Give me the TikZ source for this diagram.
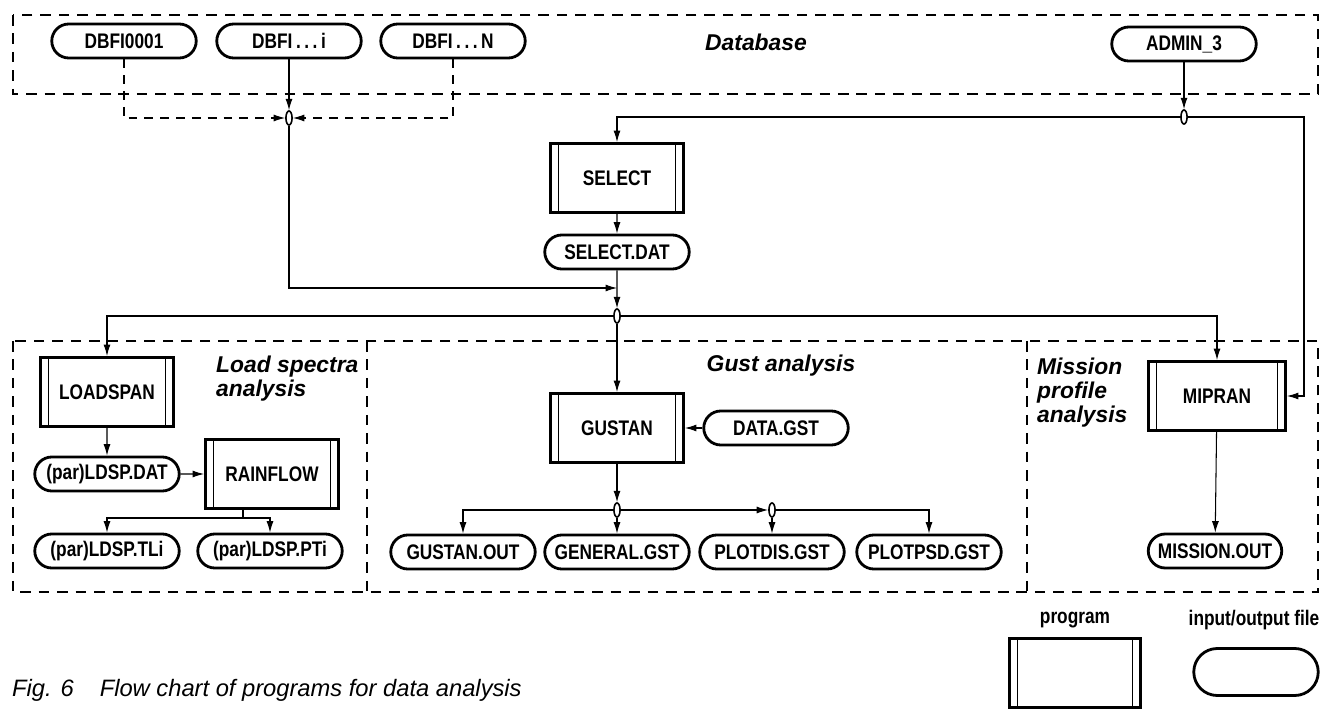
\documentclass[tikz,border=0pt]{standalone}
\usepackage{fontspec}
\setmainfont{Liberation Sans}
\newfontfamily\condfont[FakeStretch=0.82]{Liberation Sans}
\usetikzlibrary{arrows.meta,shapes.misc,shapes.geometric}
\newcommand{\lbl}{\condfont\bfseries\fontsize{12}{14}\selectfont}
\newcommand{\ttl}{\bfseries\itshape\fontsize{13}{13.5}\selectfont}
\tikzset{
  prog/.style={draw, line width=1.7pt, minimum width=2.66cm, minimum height=1.38cm, inner sep=0pt, fill=white, font=\lbl,
    path picture={
      \draw[line width=0.8pt] ([xshift=4.5pt]path picture bounding box.north west) -- ([xshift=4.5pt]path picture bounding box.south west);
      \draw[line width=0.8pt] ([xshift=-4.5pt]path picture bounding box.north east) -- ([xshift=-4.5pt]path picture bounding box.south east);}},
  file/.style={draw, rounded rectangle, line width=1.6pt, minimum width=2.96cm, minimum height=0.68cm, inner sep=1pt, fill=white, font=\lbl},
  junc/.style={draw, ellipse, line width=0.9pt, minimum width=3.5pt, minimum height=8pt, inner sep=0pt, fill=white},
  flow/.style={line width=0.6pt, -{Latex[length=6.5pt,width=4pt]}},
  dline/.style={dash pattern=on 5pt off 4pt},
  region/.style={line width=1.1pt, dash pattern=on 6pt off 4.5pt},
}
\begin{document}
\begin{tikzpicture}[x=0.02cm, y=-0.02cm]
      \useasboundingbox (0,0) rectangle (1325,709);
      % dashed regions
      \draw[region] (13,15) rectangle (1318,94);
      \draw[region] (13,341) rectangle (1318,592);
      \draw[region] (367,341) -- (367,592);
      \draw[region] (1027,341) -- (1027,592);
      \node[font=\ttl] (tdb) at (756,42) {Database};
      \node[font=\ttl, align=left, anchor=north west] (tload) at (210,350) {Load spectra\\analysis};
      \node[font=\ttl] (tgust) at (781,366) {Gust analysis};
      \node[font=\ttl, align=left, anchor=north west] (tmis) at (1031,352) {Mission\\profile\\analysis};
      % database files
      \node[file] (dbfa) at (124,41) {DBFI0001};
      \node[file] (dbfi) at (289,41) {DBFI\,.\,.\,.\,i};
      \node[file] (dbfn) at (453,41) {DBFI\,.\,.\,.\,N};
      \node[file] (admin) at (1184,44) {ADMIN\_3};
      \node[junc] (jdb) at (289,118) {};
      \node[junc] (jad) at (1184,117) {};
      \coordinate (rt) at (1304,117);
      \coordinate (m1) at (617,288);
      \draw[flow,dline] (dbfa.south) |- (jdb.west);
      \draw[flow,dline] (dbfn.south) |- (jdb.east);
      \draw[flow] (dbfi.south) -- (jdb.north);
      \draw[flow] (admin.south) -- (jad.north);
      % select
      \node[prog] (select) at (617,178) {SELECT};
      \node[file] (seldat) at (617,252) {SELECT.DAT};
      \node[junc] (jmain) at (617,316) {};
      \draw[flow] (jad.west) -| (select.north);
      \draw[flow] (select) -- (seldat);
      \draw[flow] (seldat) -- (jmain);
      \draw[flow] (jdb.south) |- (m1);
      % load spectra
      \node[prog] (loadspan) at (107,392) {LOADSPAN};
      \node[file] (ldspdat) at (107,474) {(par)LDSP.DAT};
      \node[prog] (rainflow) at (272,474) {RAINFLOW};
      \node[file] (tli) at (107,551) {(par)LDSP.TLi};
      \node[file] (pti) at (270,551) {(par)LDSP.PTi};
      \coordinate (rb) at (243,518);
      \draw[flow] (jmain.west) -| (loadspan.north);
      \draw[flow] (loadspan) -- (ldspdat);
      \draw[flow] (ldspdat) -- (rainflow);
      \draw[line width=0.6pt] (rainflow.south -| rb) -- (rb);
      \draw[flow] (rb) -| (tli.north);
      \draw[flow] (rb) -| (pti.north);
      % gust
      \node[prog] (gustan) at (617,428) {GUSTAN};
      \node[file] (datagst) at (776,428) {DATA.GST};
      \node[junc] (jg1) at (617,510) {};
      \node[junc] (jg2) at (772,510) {};
      \node[file] (gustout) at (463,552) {GUSTAN.OUT};
      \node[file] (general) at (617,552) {GENERAL.GST};
      \node[file] (plotdis) at (772,552) {PLOTDIS.GST};
      \node[file] (plotpsd) at (929,552) {PLOTPSD.GST};
      \draw[flow] (jmain.south) -- (gustan.north);
      \draw[flow] (datagst) -- (gustan);
      \draw[flow] (gustan) -- (jg1);
      \draw[flow] (jg1.south) -- (general.north);
      \draw[flow] (jg1.west) -| (gustout.north);
      \draw[flow] (jg1.east) -- (jg2.west);
      \draw[flow] (jg2.south) -- (plotdis.north);
      \draw[flow] (jg2.east) -| (plotpsd.north);
      % mission
      \node[prog, minimum width=2.74cm] (mipran) at (1217,396) {MIPRAN};
      \node[file, minimum width=2.74cm] (misout) at (1215,551) {MISSION.OUT};
      \draw[flow] (jmain.east) -| (mipran.north);
      \draw[flow] (jad.east) -- (rt) |- (mipran.east);
      \draw[flow] (mipran) -- (misout);
      % legend
      \node[font=\lbl] (lprog) at (1075,620) {program};
      \node[font=\lbl] (lfile) at (1254,620) {input/output file};
      \node[prog, minimum width=2.62cm, minimum height=1.38cm] (kprog) at (1075,673) {};
      \node[file, minimum width=2.56cm, minimum height=0.94cm] (kfile) at (1256,672) {};
      \node[font=\itshape\fontsize{13.5}{15}\selectfont, anchor=west] (cap) at (6,690) {Fig. 6\hspace{1.1em}Flow chart of programs for data analysis};
    \end{tikzpicture}
\end{document}
